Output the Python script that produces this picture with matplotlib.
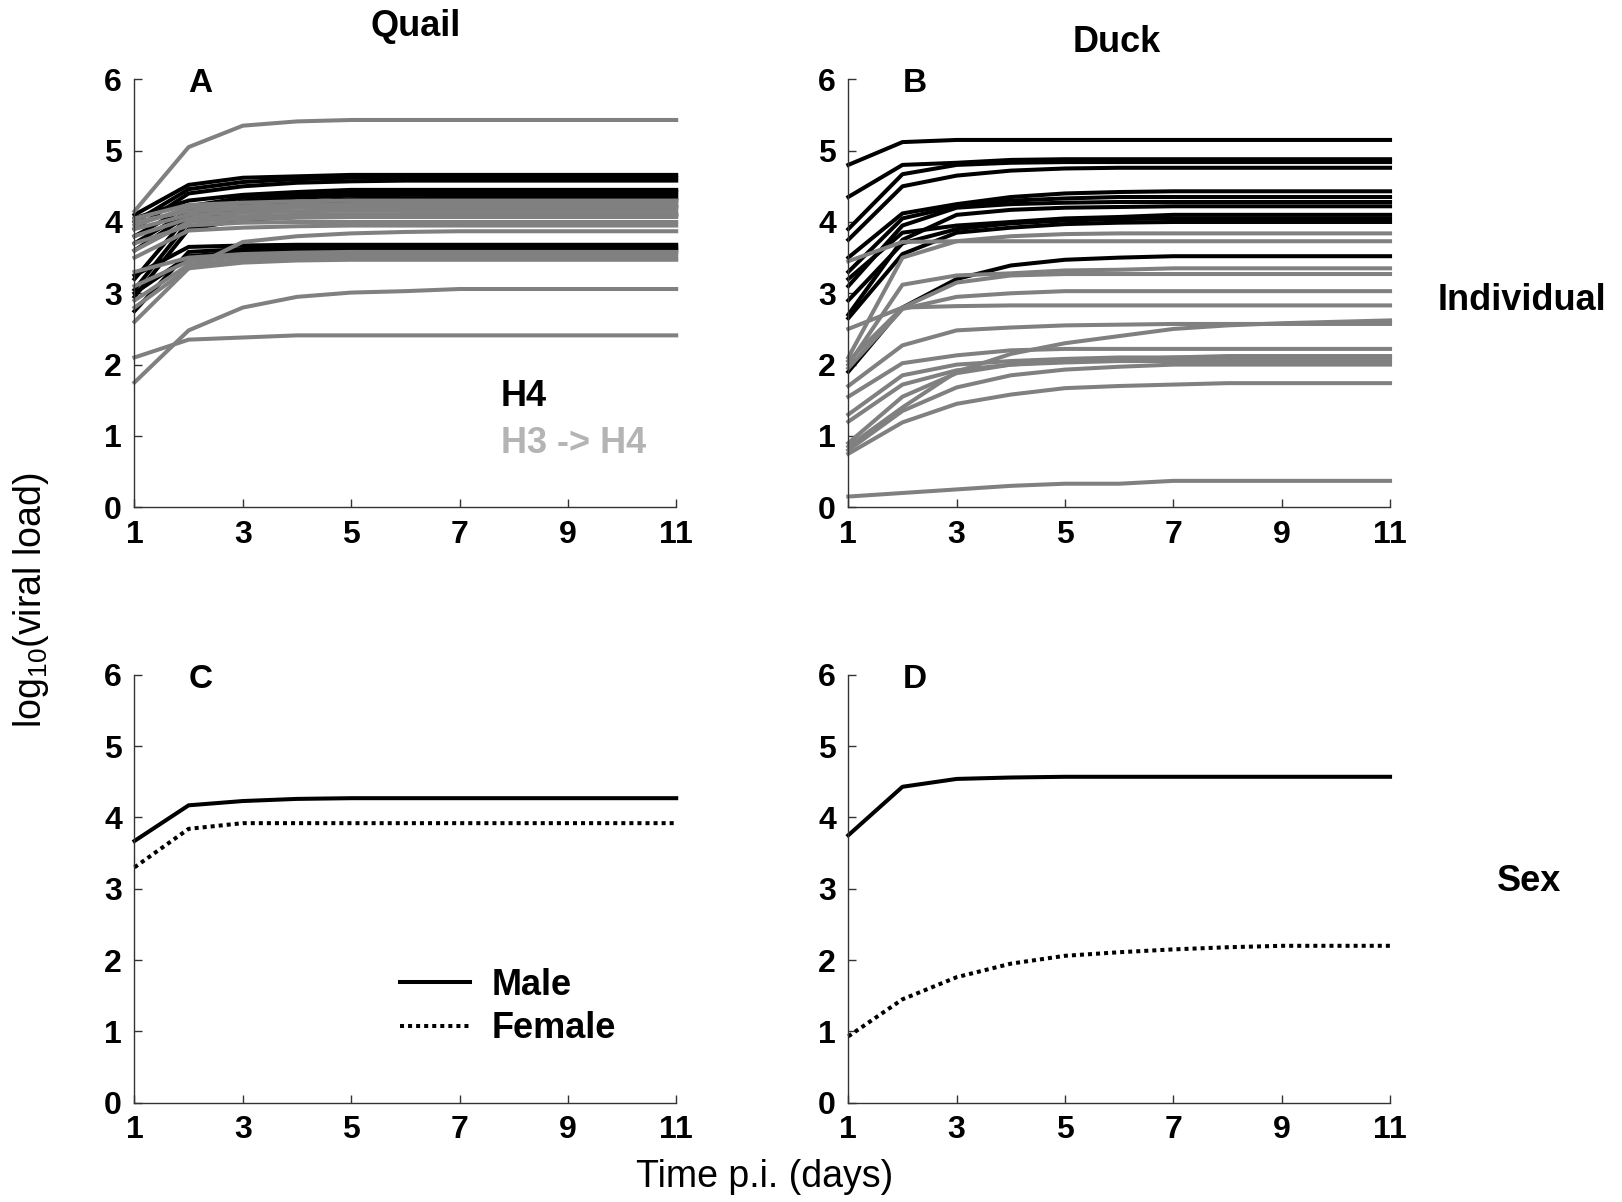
import numpy as np
import matplotlib
matplotlib.use('Agg')
import matplotlib.pyplot as plt

plt.rcParams['font.family'] = ['Liberation Sans', 'DejaVu Sans']
plt.rcParams['mathtext.fontset'] = 'custom'
plt.rcParams['mathtext.rm'] = 'Liberation Sans'
plt.rcParams['mathtext.it'] = 'Liberation Sans'

days = [1, 2, 3, 4, 5, 6, 7, 8, 9, 10, 11]

# Quail, H4 (black)
quail_h4 = [
    [4.10, 4.52, 4.62, 4.64, 4.66, 4.66, 4.66, 4.66, 4.66, 4.66, 4.66],
    [4.00, 4.46, 4.56, 4.60, 4.62, 4.62, 4.62, 4.62, 4.62, 4.62, 4.62],
    [3.90, 4.40, 4.50, 4.55, 4.57, 4.58, 4.58, 4.58, 4.58, 4.58, 4.58],
    [4.05, 4.30, 4.38, 4.42, 4.45, 4.45, 4.45, 4.45, 4.45, 4.45, 4.45],
    [3.80, 4.22, 4.34, 4.38, 4.41, 4.42, 4.42, 4.42, 4.42, 4.42, 4.42],
    [3.70, 4.15, 4.29, 4.34, 4.37, 4.38, 4.38, 4.38, 4.38, 4.38, 4.38],
    [3.05, 4.00, 4.20, 4.28, 4.32, 4.33, 4.34, 4.34, 4.34, 4.34, 4.34],
    [3.20, 4.10, 4.24, 4.28, 4.30, 4.30, 4.30, 4.30, 4.30, 4.30, 4.30],
    [3.60, 4.10, 4.18, 4.21, 4.22, 4.22, 4.22, 4.22, 4.22, 4.22, 4.22],
    [2.95, 3.90, 4.03, 4.07, 4.09, 4.10, 4.10, 4.10, 4.10, 4.10, 4.10],
    [3.25, 3.65, 3.67, 3.68, 3.68, 3.68, 3.68, 3.68, 3.68, 3.68, 3.68],
    [2.75, 3.58, 3.62, 3.64, 3.64, 3.64, 3.64, 3.64, 3.64, 3.64, 3.64],
    [3.00, 3.52, 3.58, 3.60, 3.61, 3.61, 3.61, 3.61, 3.61, 3.61, 3.61],
]

# Quail, H3 -> H4 (grey)
quail_h3h4 = [
    [4.15, 5.05, 5.35, 5.41, 5.43, 5.43, 5.43, 5.43, 5.43, 5.43, 5.43],
    [1.75, 2.48, 2.80, 2.95, 3.01, 3.03, 3.06, 3.06, 3.06, 3.06, 3.06],
    [2.10, 2.35, 2.38, 2.41, 2.41, 2.41, 2.41, 2.41, 2.41, 2.41, 2.41],
    [2.60, 3.35, 3.43, 3.46, 3.47, 3.47, 3.47, 3.47, 3.47, 3.47, 3.47],
    [2.90, 3.40, 3.47, 3.50, 3.50, 3.50, 3.50, 3.50, 3.50, 3.50, 3.50],
    [3.10, 3.45, 3.52, 3.54, 3.55, 3.55, 3.55, 3.55, 3.55, 3.55, 3.55],
    [3.30, 3.50, 3.55, 3.57, 3.58, 3.58, 3.58, 3.58, 3.58, 3.58, 3.58],
    [2.80, 3.35, 3.72, 3.80, 3.84, 3.86, 3.87, 3.87, 3.87, 3.87, 3.87],
    [3.50, 3.88, 3.92, 3.94, 3.95, 3.95, 3.95, 3.95, 3.95, 3.95, 3.95],
    [3.70, 3.95, 3.99, 4.00, 4.00, 4.00, 4.00, 4.00, 4.00, 4.00, 4.00],
    [3.60, 4.00, 4.04, 4.06, 4.07, 4.07, 4.07, 4.07, 4.07, 4.07, 4.07],
    [3.80, 4.05, 4.08, 4.10, 4.11, 4.11, 4.11, 4.11, 4.11, 4.11, 4.11],
    [3.90, 4.10, 4.13, 4.15, 4.16, 4.16, 4.16, 4.16, 4.16, 4.16, 4.16],
    [4.00, 4.15, 4.18, 4.20, 4.20, 4.20, 4.20, 4.20, 4.20, 4.20, 4.20],
    [3.95, 4.20, 4.22, 4.24, 4.25, 4.25, 4.25, 4.25, 4.25, 4.25, 4.25],
    [4.05, 4.24, 4.27, 4.29, 4.30, 4.30, 4.30, 4.30, 4.30, 4.30, 4.30],
]

# Duck, H4 (black)
duck_h4 = [
    [4.80, 5.12, 5.15, 5.15, 5.15, 5.15, 5.15, 5.15, 5.15, 5.15, 5.15],
    [4.35, 4.80, 4.83, 4.87, 4.88, 4.88, 4.88, 4.88, 4.88, 4.88, 4.88],
    [3.90, 4.67, 4.80, 4.83, 4.84, 4.84, 4.84, 4.84, 4.84, 4.84, 4.84],
    [3.75, 4.50, 4.65, 4.72, 4.75, 4.76, 4.76, 4.76, 4.76, 4.76, 4.76],
    [3.50, 4.12, 4.25, 4.35, 4.40, 4.42, 4.43, 4.43, 4.43, 4.43, 4.43],
    [3.30, 4.05, 4.22, 4.30, 4.33, 4.35, 4.35, 4.35, 4.35, 4.35, 4.35],
    [3.10, 3.95, 4.20, 4.25, 4.27, 4.28, 4.28, 4.28, 4.28, 4.28, 4.28],
    [2.70, 3.75, 4.10, 4.17, 4.20, 4.21, 4.22, 4.22, 4.22, 4.22, 4.22],
    [3.20, 3.85, 3.95, 4.00, 4.05, 4.07, 4.10, 4.10, 4.10, 4.10, 4.10],
    [2.90, 3.70, 3.90, 3.98, 4.02, 4.04, 4.05, 4.05, 4.05, 4.05, 4.05],
    [2.65, 3.55, 3.85, 3.92, 3.97, 3.99, 4.00, 4.00, 4.00, 4.00, 4.00],
    [1.90, 2.80, 3.20, 3.39, 3.47, 3.50, 3.52, 3.52, 3.52, 3.52, 3.52],
]

# Duck, H3 -> H4 (grey)
duck_h3h4 = [
    [3.45, 3.72, 3.73, 3.73, 3.73, 3.73, 3.73, 3.73, 3.73, 3.73, 3.73],
    [2.10, 3.50, 3.73, 3.80, 3.83, 3.84, 3.84, 3.84, 3.84, 3.84, 3.84],
    [2.00, 3.12, 3.25, 3.28, 3.32, 3.33, 3.35, 3.35, 3.35, 3.35, 3.35],
    [2.05, 2.80, 3.15, 3.25, 3.27, 3.27, 3.27, 3.27, 3.27, 3.27, 3.27],
    [2.50, 2.80, 2.82, 2.83, 2.83, 2.83, 2.83, 2.83, 2.83, 2.83, 2.83],
    [1.95, 2.78, 2.95, 3.00, 3.03, 3.03, 3.03, 3.03, 3.03, 3.03, 3.03],
    [1.70, 2.27, 2.48, 2.52, 2.55, 2.56, 2.57, 2.57, 2.57, 2.57, 2.57],
    [0.85, 1.40, 1.90, 2.15, 2.30, 2.40, 2.50, 2.55, 2.58, 2.60, 2.62],
    [1.55, 2.02, 2.13, 2.20, 2.22, 2.22, 2.22, 2.22, 2.22, 2.22, 2.22],
    [1.30, 1.85, 2.00, 2.05, 2.08, 2.10, 2.10, 2.10, 2.10, 2.10, 2.10],
    [1.20, 1.72, 1.92, 2.00, 2.03, 2.05, 2.05, 2.05, 2.05, 2.05, 2.05],
    [0.90, 1.55, 1.88, 2.00, 2.05, 2.07, 2.10, 2.12, 2.12, 2.12, 2.12],
    [0.80, 1.35, 1.68, 1.85, 1.93, 1.97, 2.00, 2.00, 2.00, 2.00, 2.00],
    [0.75, 1.19, 1.45, 1.58, 1.67, 1.70, 1.72, 1.74, 1.74, 1.74, 1.74],
    [0.15, 0.20, 0.25, 0.30, 0.33, 0.33, 0.37, 0.37, 0.37, 0.37, 0.37],
]

# Sex effect
quail_male = [3.67, 4.17, 4.23, 4.26, 4.27, 4.27, 4.27, 4.27, 4.27, 4.27, 4.27]
quail_female = [3.30, 3.84, 3.92, 3.92, 3.92, 3.92, 3.92, 3.92, 3.92, 3.92, 3.92]
duck_male = [3.75, 4.43, 4.54, 4.56, 4.57, 4.57, 4.57, 4.57, 4.57, 4.57, 4.57]
duck_female = [0.93, 1.45, 1.76, 1.95, 2.06, 2.11, 2.15, 2.18, 2.20, 2.20, 2.20]

BLACK = 'black'
GREY = '#808080'
LW = 2.9
FS = 23      # tick labels
FL = 26      # labels / annotations

fig = plt.figure(figsize=(16.22, 12.02), dpi=100)
w = 0.334
h = 0.356
axA = fig.add_axes([0.0829, 0.578, w, h])
axB = fig.add_axes([0.523, 0.578, w, h])
axC = fig.add_axes([0.0829, 0.0826, w, h])
axD = fig.add_axes([0.523, 0.0826, w, h])


def style(ax, letter):
    ax.set_xlim(1, 11)
    ax.set_ylim(0, 6)
    ax.set_xticks([1, 3, 5, 7, 9, 11])
    ax.set_yticks([0, 1, 2, 3, 4, 5, 6])
    ax.spines['top'].set_visible(False)
    ax.spines['right'].set_visible(False)
    for s in ['left', 'bottom']:
        ax.spines[s].set_linewidth(1.0)
        ax.spines[s].set_color('#333333')
    ax.tick_params(direction='in', length=6, width=1, color='#333333',
                   labelsize=FS, pad=9)
    for lab in ax.get_xticklabels() + ax.get_yticklabels():
        lab.set_fontweight('bold')
    ax.text(0.122, 0.99, letter, transform=ax.transAxes, fontsize=24,
            fontweight='bold', ha='center', va='center')
    for line in ax.get_lines():
        line.set_clip_on(False)


for y in quail_h4:
    axA.plot(days, y, color=BLACK, lw=LW)
for y in quail_h3h4:
    axA.plot(days, y, color=GREY, lw=LW)
for y in duck_h4:
    axB.plot(days, y, color=BLACK, lw=LW)
for y in duck_h3h4:
    axB.plot(days, y, color=GREY, lw=LW)

axC.plot(days, quail_male, color=BLACK, lw=LW, label='Male')
axC.plot(days, quail_female, color=BLACK, lw=LW, ls=(0, (1, 1)), label='Female')
axD.plot(days, duck_male, color=BLACK, lw=LW)
axD.plot(days, duck_female, color=BLACK, lw=LW, ls=(0, (1, 1)))

style(axA, 'A')
style(axB, 'B')
style(axC, 'C')
style(axD, 'D')

axA.text(0.676, 0.258, 'H4', transform=axA.transAxes, fontsize=FL,
         fontweight='bold', color=BLACK, ha='left', va='center')
axA.text(0.676, 0.150, 'H3 -> H4', transform=axA.transAxes, fontsize=FL,
         fontweight='bold', color='#b4b4b4', ha='left', va='center')

leg = axC.legend(loc='center', bbox_to_anchor=(0.69, 0.224), frameon=False,
                 handlelength=1.95, handletextpad=0.6, labelspacing=0.24,
                 borderpad=0, prop={'size': FL, 'weight': 'bold'})

axA.text(0.519, 1.123, 'Quail', transform=axA.transAxes, fontsize=FL,
         fontweight='bold', ha='center', va='center')
axB.text(0.496, 1.085, 'Duck', transform=axB.transAxes, fontsize=FL,
         fontweight='bold', ha='center', va='center')
axB.text(1.244, 0.483, 'Individual', transform=axB.transAxes, fontsize=FL,
         fontweight='bold', ha='center', va='center')
axD.text(1.256, 0.518, 'Sex', transform=axD.transAxes, fontsize=FL,
         fontweight='bold', ha='center', va='center')

fig.text(0.019, 0.501, r'log$_{\mathrm{10}}$(viral load)', rotation=90,
         fontsize=27, ha='center', va='center')
fig.text(0.4716, 0.0208, 'Time p.i. (days)', fontsize=27,
         ha='center', va='center')

fig.savefig('out.png', dpi=100)
